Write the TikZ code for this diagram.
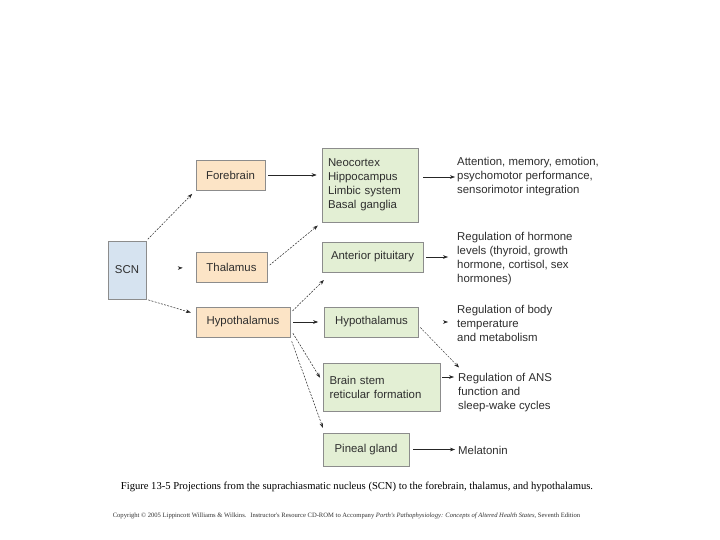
\documentclass[tikz,border=0pt]{standalone}
\usepackage{fontspec}
\setmainfont{Liberation Sans}
\newfontfamily\capfont{Liberation Serif}
\usetikzlibrary{arrows.meta,calc}
\definecolor{txt}{HTML}{2E2E2E}
\definecolor{bordc}{HTML}{8C8C8C}
\definecolor{orangefill}{HTML}{FCE4C6}
\definecolor{greenfill}{HTML}{E3EFD4}
\definecolor{bluefill}{HTML}{D6E3F0}
\tikzset{
  box/.style={draw=bordc, line width=0.7pt, inner sep=0pt, text=txt,
    font=\fontsize{11.4}{14}\selectfont},
  obox/.style={box, fill=orangefill},
  gbox/.style={box, fill=greenfill},
  bbox/.style={box, fill=bluefill},
  lbl/.style={anchor=west, inner sep=0pt, align=left, text=txt,
    font=\fontsize{11.4}{14}\selectfont},
  arr/.style={-{Stealth[length=5pt,width=3.6pt]}, line width=0.5pt, draw=black!85},
  darr/.style={arr, dash pattern=on 2pt off 1.3pt},
  tiponly/.style={arr, dash pattern=on 0pt off 300pt},
}
\begin{document}
\begin{tikzpicture}[x=1pt,y=-1pt]
\path[use as bounding box, fill=white] (0,0) rectangle (720,540);

% boxes
\node[bbox, minimum width=38pt, minimum height=58pt] (scn) at (127,270) {SCN};
\node[obox, minimum width=69pt, minimum height=30pt] (fore) at (230.5,175) {Forebrain};
\node[obox, minimum width=71pt, minimum height=30pt] (thal) at (231.5,267) {Thalamus};
\node[obox, minimum width=94pt, minimum height=30pt] (hypo) at (243,322) {Hypothalamus};

\node[gbox, minimum width=96pt, minimum height=74pt, align=left, text width=84pt] (neo) at (370,185)
  {Neocortex\\Hippocampus\\Limbic system\\Basal ganglia};
\node[gbox, minimum width=101pt, minimum height=30pt] (antp) at (372.5,257) {Anterior pituitary};
\node[gbox, minimum width=94pt, minimum height=30pt] (hypg) at (371.5,322) {Hypothalamus};
\node[gbox, minimum width=117pt, minimum height=48pt, align=left, text width=104pt] (bstem) at (381.5,387)
  {Brain stem\\reticular formation};
\node[gbox, minimum width=86pt, minimum height=33pt] (pineal) at (366,449.5) {Pineal gland};

% right-hand texts
\node[lbl] (att) at (457,177) {Attention, memory, emotion,\\psychomotor performance,\\sensorimotor integration};
\node[lbl] (horm) at (457,259) {Regulation of hormone\\levels (thyroid, growth\\hormone, cortisol, sex\\hormones)};
\node[lbl] (body) at (457,323) {Regulation of body\\temperature\\and metabolism};
\node[lbl] (ans) at (458,393) {Regulation of ANS\\function and\\sleep-wake cycles};
\node[lbl] (mel) at (458,450) {Melatonin};

% connectors from SCN
\draw[darr, shorten <=2pt, shorten >=5pt] (scn.north east) -- (fore.south west);
\draw[tiponly, shorten <=31pt, shorten >=13pt] (scn.east) -- (thal.west);
\draw[darr, shorten <=2pt, shorten >=5pt] (scn.south east) -- ($(hypo.west)+(0,-8)$);

% from forebrain / thalamus
\draw[arr, shorten <=3pt, shorten >=5pt] (fore.east) -- (fore.east -| neo.west);
\draw[darr, shorten <=3pt, shorten >=5pt] (thal.east) -- (neo.south west);

% from hypothalamus
\draw[darr, shorten <=3pt, shorten >=1pt] ($(hypo.east)+(0,-9)$) -- ($(antp.south west)+(3,7)$);
\draw[arr, shorten <=3pt, shorten >=6pt] (hypo.east) -- (hypg.west);
\draw[darr, shorten <=1pt, shorten >=5pt] ($(hypo.south east)+(2,-5)$) -- ($(bstem.west)+(0,-5)$);
\draw[darr, shorten <=1pt, shorten >=5pt] ($(hypo.south east)+(1,3)$) -- ($(pineal.north west)+(2,0)$);

% to outcomes
\draw[arr, shorten <=5pt, shorten >=2pt] (neo.east |- att.west) -- (att.west);
\draw[arr, shorten <=3pt, shorten >=9pt] (antp.east) -- (antp.east -| horm.west);
\draw[tiponly, shorten <=24pt, shorten >=9pt] (hypg.east) -- (hypg.east -| body.west);
\draw[darr, line width=0.4pt, shorten <=2pt, shorten >=0pt] ($(hypg.east)+(0,4)$) -- ($(ans.north west)+(1,-6)$);
\draw[arr, shorten <=2pt, shorten >=4pt] ($(bstem.east)+(0,-10)$) -- ($(ans.west)+(0,-16)$);
\draw[arr, shorten <=4pt, shorten >=3pt] (pineal.east) -- (pineal.east -| mel.west);

% caption
\node[inner sep=0pt, font=\capfont\fontsize{10.6}{12}\selectfont, text=black] (cap) at (357,487)
  {Figure 13-5 Projections from the suprachiasmatic nucleus (SCN) to the forebrain, thalamus, and hypothalamus.};
\node[inner sep=0pt, font=\capfont\fontsize{6.6}{7}\selectfont, text=black!80] (copy) at (346.5,516)
  {Copyright \textcopyright{} 2005 Lippincott Williams \& Wilkins. \ Instructor's Resource CD-ROM to Accompany \textit{Porth's Pathophysiology: Concepts of Altered Health States}, Seventh Edition};
\end{tikzpicture}
\end{document}
